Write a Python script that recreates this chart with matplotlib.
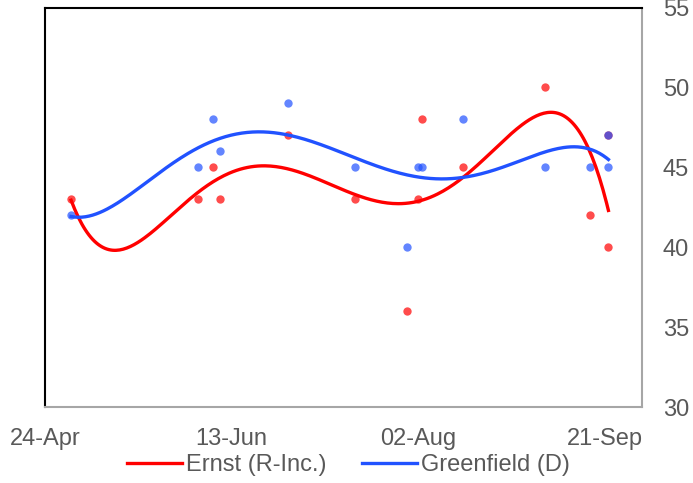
import numpy as np
import matplotlib
matplotlib.use('Agg')
import matplotlib.pyplot as plt

# poll dates as days after 24-Apr
ernst_days = [7, 41, 45, 47, 65, 83, 97, 100, 101, 112, 134, 146, 151, 151]
ernst_vals = [43, 43, 45, 43, 47, 43, 36, 43, 48, 45, 50, 42, 47, 40]
green_days = [7, 41, 45, 47, 65, 83, 97, 100, 101, 112, 134, 146, 151, 151]
green_vals = [42, 45, 48, 46, 49, 45, 40, 45, 45, 48, 45, 45, 47, 45]

tick_days = [0, 50, 100, 150]
tick_labels = ['24-Apr', '13-Jun', '02-Aug', '21-Sep']

plt.rcParams['font.family'] = ['Liberation Sans', 'DejaVu Sans']

fig = plt.figure(figsize=(6.93, 4.83), dpi=100)
ax = fig.add_axes([0.0649, 0.1573, 0.8615, 0.827])

red = '#FF0000'
blue = '#2152FF'

ax.scatter(ernst_days, ernst_vals, s=36, color=red, alpha=0.7, linewidths=0, zorder=2)
ax.scatter(green_days, green_vals, s=36, color=blue, alpha=0.7, linewidths=0, zorder=2)

# 5th order polynomial trendlines over the poll range
def trend(days, vals, deg=5):
    p = np.polynomial.Polynomial.fit(days, vals, deg)
    xs = np.linspace(min(days), max(days), 300)
    return xs, p(xs)

xs, ys = trend(ernst_days, ernst_vals)
ax.plot(xs, ys, color=red, lw=2.4, label='Ernst (R-Inc.)', zorder=3)
xs, ys = trend(green_days, green_vals)
ax.plot(xs, ys, color=blue, lw=2.4, label='Greenfield (D)', zorder=3)

ax.set_xlim(0, 160)
ax.set_ylim(30, 55)
ax.set_xticks(tick_days)
ax.set_xticklabels(tick_labels)
ax.set_yticks([30, 35, 40, 45, 50, 55])
ax.yaxis.tick_right()
ax.tick_params(length=0, labelsize=17, colors='#595959')
ax.tick_params(axis='x', pad=15)
ax.tick_params(axis='y', pad=15)

ax.spines['left'].set_color('black')
ax.spines['top'].set_color('black')
ax.spines['left'].set_linewidth(1.5)
ax.spines['top'].set_linewidth(1.5)
ax.spines['right'].set_color('#A6A6A6')
ax.spines['bottom'].set_color('#A6A6A6')
ax.spines['right'].set_linewidth(1.5)
ax.spines['bottom'].set_linewidth(1.5)

leg = ax.legend(loc='center', bbox_to_anchor=(0.509, -0.145), ncol=2,
                frameon=False, fontsize=17, handlelength=2.3,
                handletextpad=0.2, columnspacing=1.5, borderaxespad=0)
for t in leg.get_texts():
    t.set_color('#595959')

fig.savefig('out.png', dpi=100)
